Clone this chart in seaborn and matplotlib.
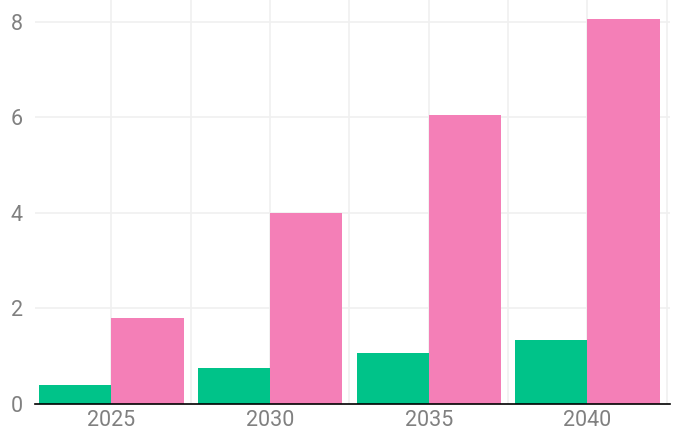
import numpy as np
import pandas as pd
import matplotlib
matplotlib.use("Agg")
import matplotlib.pyplot as plt
import seaborn as sns

# values
years = ["2025", "2030", "2035", "2040"]
series_names = ["A", "B"]
green_vals = [0.40, 0.75, 1.07, 1.34]
pink_vals = [1.80, 4.00, 6.05, 8.06]
y_ticks = [0, 2, 4, 6, 8]

df = pd.DataFrame({
    "year": years * 2,
    "series": [series_names[0]] * len(years) + [series_names[1]] * len(years),
    "value": green_vals + pink_vals,
})

sns.set_style("white")
plt.rcParams["font.family"] = ["Roboto", "DejaVu Sans"]

fig = plt.figure(figsize=(6.76, 4.30), dpi=100)
ax = fig.add_axes([0.052, 0.0605, 0.939, 0.9395])

# light grid behind the bars, every half category
for x in np.arange(0, len(years), 0.5):
    ax.axvline(x, color="#f0f0f0", lw=1.2, zorder=0)
for y in y_ticks[1:]:
    ax.axhline(y, color="#f0f0f0", lw=1.2, zorder=0)

sns.barplot(data=df, x="year", y="value", hue="series",
            palette=["#00C389", "#F47FB7"], width=0.91, gap=0,
            saturation=1, legend=False, linewidth=0, ax=ax, zorder=2)

ax.set_xlim(-0.48, 3.52)
ax.set_ylim(0, 8.45)
ax.set_yticks(y_ticks)
ax.set_xlabel("")
ax.set_ylabel("")
for side in ["left", "right", "top"]:
    ax.spines[side].set_visible(False)
ax.spines["bottom"].set_color("black")
ax.spines["bottom"].set_linewidth(1.2)
ax.spines["bottom"].set_zorder(3)
ax.tick_params(axis="both", length=0, labelsize=15.5, labelcolor="#808080")
ax.tick_params(axis="y", pad=9)
ax.tick_params(axis="x", pad=4)

fig.savefig("out.png", dpi=100)
